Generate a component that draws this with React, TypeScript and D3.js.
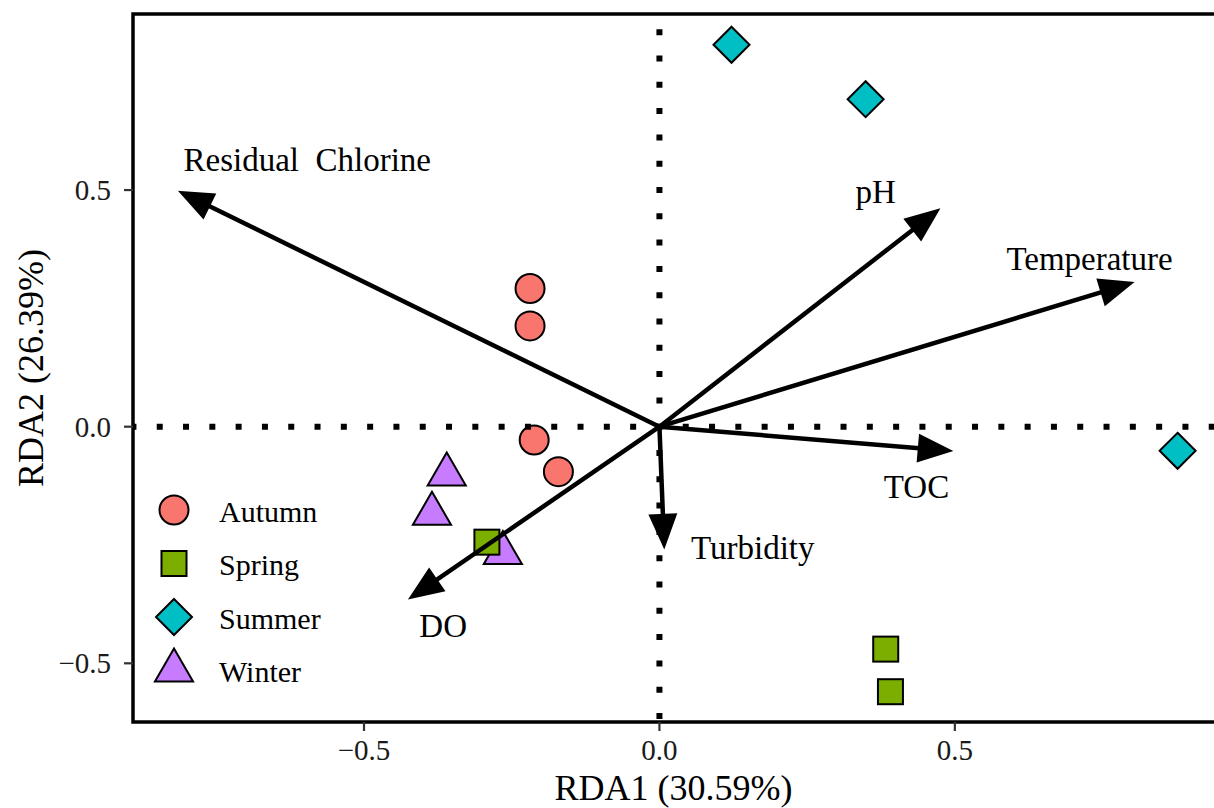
import React from "react";
import * as d3 from "d3";

// site scores per season (RDA1, RDA2)
const seasons = ["Autumn", "Spring", "Summer", "Winter"];
const seasonColors = ["#F8766D", "#7CAE00", "#00BFC4", "#C77CFF"];
const seasonShapes = ["circle", "square", "diamond", "triangle"];

const autumnPts = [[-0.219, 0.292], [-0.219, 0.213], [-0.212, -0.028], [-0.171, -0.095]];
const springPts = [[-0.292, -0.244], [0.383, -0.47], [0.391, -0.56]];
const summerPts = [[0.122, 0.807], [0.349, 0.692], [0.877, -0.051]];
const winterPts = [[-0.36, -0.101], [-0.385, -0.184], [-0.265, -0.267]];

// environmental vectors
const envNames = ["Residual  Chlorine", "pH", "Temperature", "TOC", "Turbidity", "DO"];
const envTips = [[-0.811, 0.496], [0.472, 0.458], [0.8, 0.304], [0.493, -0.051], [0.008, -0.254], [-0.422, -0.362]];
const envLabelPos = [[-0.596, 0.563], [0.366, 0.495], [0.728, 0.354], [0.435, -0.128], [0.158, -0.257], [-0.366, -0.421]];

const xTicks = [-0.5, 0, 0.5];
const yTicks = [-0.5, 0, 0.5];
const xTitle = "RDA1 (30.59%)";
const yTitle = "RDA2 (26.39%)";

const W = 1214;
const H = 808;
const panel = { left: 133, top: 14, right: 1216, bottom: 722 };
const font = "'Liberation Serif', 'Times New Roman', serif";

const fmt = (v: number) => (v < 0 ? "\u2212" : "") + Math.abs(v).toFixed(1);

function Marker({ shape, cx, cy, fill }: { shape: string; cx: number; cy: number; fill: string }) {
  const common = { fill, stroke: "#000", strokeWidth: 2 };
  if (shape === "circle") return <circle cx={cx} cy={cy} r={14.5} {...common} />;
  if (shape === "square") return <rect x={cx - 12.5} y={cy - 12.5} width={25} height={25} {...common} />;
  if (shape === "diamond") {
    const s = 18;
    return <polygon points={`${cx},${cy - s} ${cx + s},${cy} ${cx},${cy + s} ${cx - s},${cy}`} {...common} />;
  }
  const r = 22;
  const xc = (r * Math.sqrt(3)) / 2;
  return (
    <polygon
      points={`${cx},${cy - r} ${cx + xc},${cy + r / 2} ${cx - xc},${cy + r / 2}`}
      {...common}
      strokeLinejoin="miter"
    />
  );
}

export default function App() {
  const x = d3.scaleLinear().domain([-0.891, 0.942]).range([panel.left, panel.right]);
  const y = d3.scaleLinear().domain([-0.624, 0.872]).range([panel.bottom, panel.top]);
  const x0 = x(0);
  const y0 = y(0);

  const groups = [autumnPts, springPts, summerPts, winterPts];
  const drawOrder = [3, 0, 1, 2];

  const headLen = 32;
  const headHalf = 13;

  return (
    <svg
      width={W}
      height={H}
      style={{ position: "absolute", left: 0, top: 0, background: "#fff" }}
      fontFamily={font}
    >
      <defs>
        <clipPath id="panel">
          <rect x={panel.left} y={panel.top} width={panel.right - panel.left} height={panel.bottom - panel.top} />
        </clipPath>
      </defs>

      <g clipPath="url(#panel)">
        {/* points */}
        {drawOrder.map((gi) =>
          groups[gi].map((p, i) => (
            <Marker key={`${gi}-${i}`} shape={seasonShapes[gi]} cx={x(p[0])} cy={y(p[1])} fill={seasonColors[gi]} />
          ))
        )}

        {/* zero lines, dotted, dots centred on the origin */}
        {[
          [x0, y0, panel.left, y0],
          [x0, y0, panel.right, y0],
          [x0, y0, x0, panel.top],
          [x0, y0, x0, panel.bottom],
        ].map((l, i) => (
          <line
            key={i}
            x1={l[0]}
            y1={l[1]}
            x2={l[2]}
            y2={l[3]}
            stroke="#000"
            strokeWidth={6}
            strokeDasharray="6 20.3"
            strokeDashoffset={3}
          />
        ))}

        {/* arrows */}
        {envTips.map((t, i) => {
          const tx = x(t[0]);
          const ty = y(t[1]);
          const dx = tx - x0;
          const dy = ty - y0;
          const len = Math.hypot(dx, dy);
          const ux = dx / len;
          const uy = dy / len;
          const bx = tx - ux * headLen;
          const by = ty - uy * headLen;
          const px = -uy * headHalf;
          const py = ux * headHalf;
          return (
            <g key={envNames[i]}>
              <line
                x1={x0}
                y1={y0}
                x2={tx - ux * headLen * 0.7}
                y2={ty - uy * headLen * 0.7}
                stroke="#000"
                strokeWidth={4.5}
              />
              <polygon
                points={`${tx},${ty} ${bx + px},${by + py} ${bx - px},${by - py}`}
                fill="#000"
                stroke="#000"
                strokeWidth={2}
                strokeLinejoin="miter"
              />
            </g>
          );
        })}

        {/* arrow labels */}
        {envNames.map((n, i) => (
          <text
            key={n}
            x={x(envLabelPos[i][0])}
            y={y(envLabelPos[i][1])}
            textAnchor="middle"
            dominantBaseline="central"
            fontSize={33}
            fill="#000"
            style={{ whiteSpace: "pre" }}
          >
            {n}
          </text>
        ))}

        {/* legend */}
        {seasons.map((s, i) => {
          const cy = 510 + i * 53.5;
          return (
            <g key={s}>
              <Marker shape={seasonShapes[i]} cx={174} cy={cy} fill={seasonColors[i]} />
              <text x={219} y={cy + 1} dominantBaseline="central" fontSize={30} fill="#000">
                {s}
              </text>
            </g>
          );
        })}
      </g>

      {/* panel border */}
      <rect
        x={panel.left}
        y={panel.top}
        width={panel.right - panel.left}
        height={panel.bottom - panel.top}
        fill="none"
        stroke="#000"
        strokeWidth={3.5}
      />

      {/* axes */}
      {xTicks.map((t) => (
        <g key={`x${t}`}>
          <line x1={x(t)} x2={x(t)} y1={panel.bottom} y2={panel.bottom + 9} stroke="#333" strokeWidth={2.2} />
          <text x={x(t)} y={750} textAnchor="middle" dominantBaseline="central" fontSize={29} fill="#1a1a1a">
            {fmt(t)}
          </text>
        </g>
      ))}
      {yTicks.map((t) => (
        <g key={`y${t}`}>
          <line x1={panel.left - 9} x2={panel.left} y1={y(t)} y2={y(t)} stroke="#333" strokeWidth={2.2} />
          <text x={111} y={y(t)} textAnchor="end" dominantBaseline="central" fontSize={29} fill="#1a1a1a">
            {fmt(t)}
          </text>
        </g>
      ))}

      <text
        x={(panel.left + 1214) / 2}
        y={788}
        textAnchor="middle"
        dominantBaseline="central"
        fontSize={36}
        fill="#000"
      >
        {xTitle}
      </text>
      <text
        transform={`translate(31, ${(panel.top + panel.bottom) / 2}) rotate(-90)`}
        textAnchor="middle"
        dominantBaseline="central"
        fontSize={36}
        fill="#000"
      >
        {yTitle}
      </text>
    </svg>
  );
}
